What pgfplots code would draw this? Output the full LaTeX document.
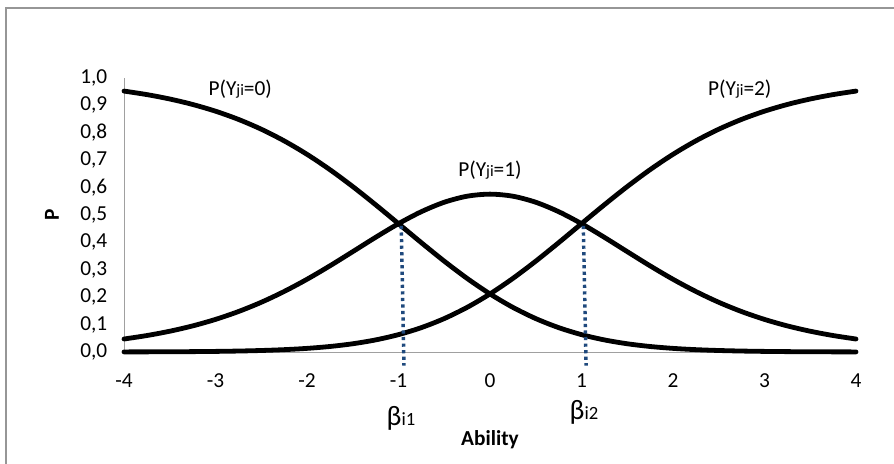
\documentclass[border=0pt]{standalone}
\usepackage{pgfplots}
\pgfplotsset{compat=1.18}
\usepackage{pgfplotstable}
\usepackage{fontspec}
\setmainfont{Carlito}
\definecolor{dotblue}{RGB}{31,73,125}
\definecolor{axgray}{RGB}{160,160,160}
\definecolor{framegray}{RGB}{150,150,150}
\pgfplotstableread{
theta p0 p1 p2
-4.00 0.95227 0.04741 0.00032
-3.75 0.93943 0.06006 0.00052
-3.50 0.92336 0.07579 0.00084
-3.25 0.90342 0.09522 0.00136
-3.00 0.87888 0.11894 0.00218
-2.75 0.84900 0.14753 0.00347
-2.50 0.81310 0.18143 0.00548
-2.25 0.77064 0.22079 0.00856
-2.00 0.72140 0.26539 0.01321
-1.75 0.66553 0.31437 0.02010
-1.50 0.60375 0.36619 0.03006
-1.25 0.53738 0.41851 0.04411
-1.00 0.46831 0.46831 0.06338
-0.75 0.39886 0.51215 0.08900
-0.50 0.33150 0.54655 0.12195
-0.25 0.26856 0.56855 0.16289
0.00 0.21194 0.57612 0.21194
0.25 0.16289 0.56855 0.26856
0.50 0.12195 0.54655 0.33150
0.75 0.08900 0.51215 0.39886
1.00 0.06338 0.46831 0.46831
1.25 0.04411 0.41851 0.53738
1.50 0.03006 0.36619 0.60375
1.75 0.02010 0.31437 0.66553
2.00 0.01321 0.26539 0.72140
2.25 0.00856 0.22079 0.77064
2.50 0.00548 0.18143 0.81310
2.75 0.00347 0.14753 0.84900
3.00 0.00218 0.11894 0.87888
3.25 0.00136 0.09522 0.90342
3.50 0.00084 0.07579 0.92336
3.75 0.00052 0.06006 0.93943
4.00 0.00032 0.04741 0.95227
}\pcm
\newcommand{\sub}[1]{{\fontsize{12}{12}\selectfont #1}}
\newcommand{\bsub}[1]{{\fontsize{14}{14}\selectfont #1}}
\begin{document}
\begin{tikzpicture}
\path[use as bounding box] (-93pt,-84pt) rectangle (577.5pt,264pt);
\draw[framegray, line width=1.4pt] (-88.5pt,-84pt) -- (-88.5pt,258pt) -- (577.5pt,258pt);
\begin{axis}[
  at={(0pt,0pt)}, anchor=south west,
  scale only axis, width=549pt, height=205.5pt,
  xmin=-4, xmax=4, ymin=0, ymax=1,
  axis lines=left, axis line style={axgray, line width=0.6pt, -},
  xtick={-4,...,4}, ytick={0,0.1,...,1.0},
  major tick length=0pt,
  clip=false,
  yticklabel style={font=\fontsize{16}{16}\selectfont, xshift=-9pt,
    /pgf/number format/.cd, fixed, fixed zerofill, precision=1, use comma},
  xticklabel style={font=\fontsize{16}{16}\selectfont, yshift=-13pt},
  /pgf/number format/assume math mode=true,
]
\addplot[black, line width=3.6pt, smooth, line cap=round] table[x=theta, y=p0] {\pcm};
\addplot[black, line width=3.6pt, smooth, line cap=round] table[x=theta, y=p1] {\pcm};
\addplot[black, line width=3.6pt, smooth, line cap=round] table[x=theta, y=p2] {\pcm};
\addplot[dotblue, line width=2.6pt, dash pattern=on 2.4pt off 2.5pt] coordinates {(-0.97,0.46) (-0.94,-0.05)};
\addplot[dotblue, line width=2.6pt, dash pattern=on 2.4pt off 2.5pt] coordinates {(1.02,0.46) (1.05,-0.05)};
\node[font=\fontsize{16}{16}\selectfont] at (axis cs:-2.73,0.96) {P(Y\sub{ji}=0)};
\node[font=\fontsize{16}{16}\selectfont] at (axis cs:0.0,0.665) {P(Y\sub{ji}=1)};
\node[font=\fontsize{16}{16}\selectfont] at (axis cs:2.73,0.96) {P(Y\sub{ji}=2)};
\end{axis}
\node[font=\fontsize{21}{21}\selectfont] at (207.75pt,-49.5pt) {β\bsub{i1}};
\node[font=\fontsize{21}{21}\selectfont] at (345pt,-45pt) {β\bsub{i2}};
\node[font=\bfseries\fontsize{16}{16}\selectfont] at (274.5pt,-66pt) {Ability};
\node[font=\bfseries\fontsize{16}{16}\selectfont, rotate=90] at (-54pt,102.75pt) {P};
\end{tikzpicture}
\end{document}
